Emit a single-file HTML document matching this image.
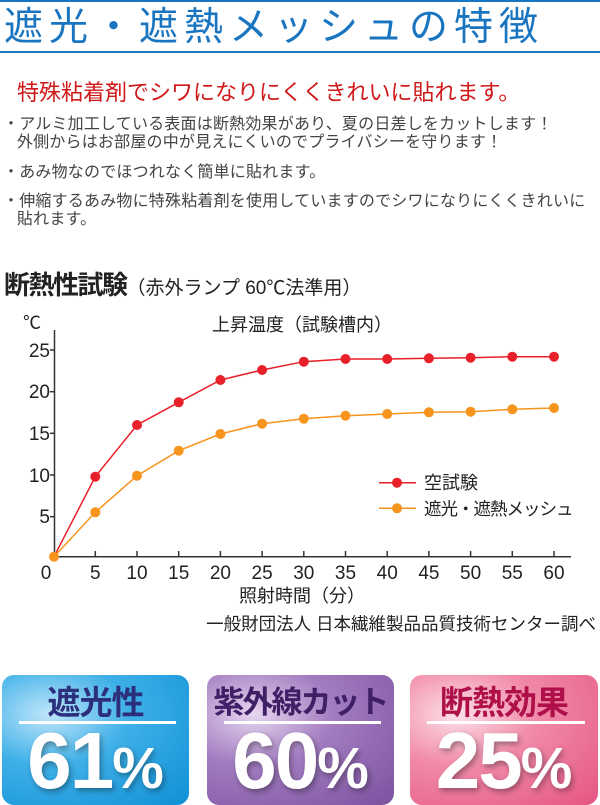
<!DOCTYPE html>
<html><head><meta charset="utf-8"><style>
body{margin:0;width:600px;height:800px;background:#fff;position:relative;overflow:hidden;font-family:"Liberation Sans","Noto Sans CJK JP",sans-serif}
.a{position:absolute;white-space:nowrap}
.box{position:absolute;top:675px;height:130px;border-radius:12px;overflow:hidden}
.box .t{position:absolute;top:8px;left:0;width:100%;text-align:center;font-size:33px;font-weight:bold;line-height:40px;letter-spacing:-1px;white-space:nowrap}
.box .l{position:absolute;top:46px;left:17px;right:13px;height:3px;background:#fff}
.box .n{position:absolute;top:47px;left:0;width:100%;text-align:center;color:#fff;font-weight:bold;font-size:80px;line-height:78px;font-family:"Liberation Sans",sans-serif;text-shadow:2px 3px 6px rgba(0,0,0,.35);letter-spacing:-2px;white-space:nowrap}
.box .n span{font-size:58px;letter-spacing:0}
</style></head><body>
<div class="a" style="left:0;top:0;width:600px;height:2px;background:#1a75c0"></div>
<div class="a" style="left:4px;top:3px;font-size:39px;color:#1a75c0;letter-spacing:6px;line-height:50px">遮光・遮熱メッシュの特徴</div>
<div class="a" style="left:0;top:51px;width:600px;height:2px;background:#1a75c0"></div>
<div class="a" style="left:17px;top:80px;font-size:22px;color:#d01818;line-height:26px">特殊粘着剤でシワになりにくくきれいに貼れます。</div>
<div class="a" style="left:3px;top:116px;font-size:16px;color:#444;line-height:18px;letter-spacing:0.2px">・アルミ加工している表面は断熱効果があり、夏の日差しをカットします！<br>&nbsp;&nbsp;&nbsp;外側からはお部屋の中が見えにくいのでプライバシーを守ります！</div>
<div class="a" style="left:3px;top:164px;font-size:16px;color:#444;line-height:18px;letter-spacing:0.2px">・あみ物なのでほつれなく簡単に貼れます。</div>
<div class="a" style="left:3px;top:193px;font-size:16px;color:#444;line-height:18px;letter-spacing:0.2px">・伸縮するあみ物に特殊粘着剤を使用していますのでシワになりにくくきれいに<br>&nbsp;&nbsp;&nbsp;貼れます。</div>
<div class="a" style="left:4px;top:270px;font-size:26px;font-weight:bold;color:#222;line-height:30px;letter-spacing:-1.5px">断熱性試験<span style="font-size:19px;font-weight:normal;letter-spacing:0">（赤外ランプ 60℃法準用）</span></div>
<svg class="a" style="left:0;top:0" width="600" height="640" font-family="Liberation Sans,Noto Sans CJK JP,sans-serif" fill="#222">
<text x="32" y="329" font-size="18" text-anchor="middle">℃</text>
<text x="302" y="331" font-size="18" text-anchor="middle">上昇温度（試験槽内）</text>
<g stroke="#333" stroke-width="1.5"><line x1="54.5" y1="330" x2="54.5" y2="557"/><line x1="54" y1="556.7" x2="571" y2="556.7"/>
<line x1="50" y1="350" x2="55" y2="350"/><line x1="50" y1="391.7" x2="55" y2="391.7"/><line x1="50" y1="433.3" x2="55" y2="433.3"/><line x1="50" y1="475" x2="55" y2="475"/><line x1="50" y1="516.7" x2="55" y2="516.7"/>
<path d="M95.3 557v-6M137 557v-6M178.7 557v-6M220.4 557v-6M262.1 557v-6M303.8 557v-6M345.5 557v-6M387.2 557v-6M428.9 557v-6M470.6 557v-6M512.3 557v-6M554 557v-6"/></g>
<g font-size="19" text-anchor="end"><text x="50" y="357">25</text><text x="50" y="398">20</text><text x="50" y="440">15</text><text x="50" y="482">10</text><text x="50" y="523">5</text></g>
<g font-size="19" text-anchor="middle"><text x="46" y="579">0</text><text x="95.3" y="579">5</text><text x="137" y="579">10</text><text x="178.7" y="579">15</text><text x="220.4" y="579">20</text><text x="262.1" y="579">25</text><text x="303.8" y="579">30</text><text x="345.5" y="579">35</text><text x="387.2" y="579">40</text><text x="428.9" y="579">45</text><text x="470.6" y="579">50</text><text x="512.3" y="579">55</text><text x="554" y="579">60</text></g>
<text x="302" y="602" font-size="18" text-anchor="middle">照射時間（分）</text>
<text x="596" y="630" font-size="17.5" text-anchor="end">一般財団法人 日本繊維製品品質技術センター調べ</text>
<polyline fill="none" stroke="#f7941d" stroke-width="1.5" points="54,556.7 95.3,512.3 137,475.7 178.7,450.7 220.4,434 262.1,423.7 303.8,418.7 345.5,415.7 387.2,414 428.9,412.3 470.6,411.7 512.3,409.3 554,408"/>
<g fill="#f7941d"><circle cx="95.3" cy="512.3" r="5"/><circle cx="137" cy="475.7" r="5"/><circle cx="178.7" cy="450.7" r="5"/><circle cx="220.4" cy="434" r="5"/><circle cx="262.1" cy="423.7" r="5"/><circle cx="303.8" cy="418.7" r="5"/><circle cx="345.5" cy="415.7" r="5"/><circle cx="387.2" cy="414" r="5"/><circle cx="428.9" cy="412.3" r="5"/><circle cx="470.6" cy="411.7" r="5"/><circle cx="512.3" cy="409.3" r="5"/><circle cx="554" cy="408" r="5"/></g>
<polyline fill="none" stroke="#e8202a" stroke-width="1.5" points="54,556.7 95.3,476.7 137,425 178.7,402.3 220.4,380 262.1,370 303.8,361.7 345.5,359 387.2,359 428.9,358.3 470.6,357.7 512.3,356.7 554,356.7"/>
<g fill="#e8202a"><circle cx="95.3" cy="476.7" r="5"/><circle cx="137" cy="425" r="5"/><circle cx="178.7" cy="402.3" r="5"/><circle cx="220.4" cy="380" r="5"/><circle cx="262.1" cy="370" r="5"/><circle cx="303.8" cy="361.7" r="5"/><circle cx="345.5" cy="359" r="5"/><circle cx="387.2" cy="359" r="5"/><circle cx="428.9" cy="358.3" r="5"/><circle cx="470.6" cy="357.7" r="5"/><circle cx="512.3" cy="356.7" r="5"/><circle cx="554" cy="356.7" r="5"/></g>
<circle cx="54" cy="556.7" r="5" fill="#f7941d"/>
<line x1="379" y1="482.7" x2="416" y2="482.7" stroke="#e8202a" stroke-width="1.5"/><circle cx="397" cy="482.7" r="5" fill="#e8202a"/>
<line x1="379" y1="508.3" x2="416" y2="508.3" stroke="#f7941d" stroke-width="1.5"/><circle cx="397" cy="508.3" r="5" fill="#f7941d"/>
<text x="424" y="489" font-size="18">空試験</text>
<text x="424" y="515" font-size="17.5" letter-spacing="-1">遮光・遮熱メッシュ</text>
</svg>
<div class="box" style="left:2px;width:187px;background:radial-gradient(ellipse at 25% 30%,#bfe6fa 0%,#3fb0e8 40%,#0f8fd6 100%)"><div class="t" style="color:#2b2f7c">遮光性</div><div class="l"></div><div class="n">61<span>%</span></div></div>
<div class="box" style="left:207px;width:187px;background:radial-gradient(ellipse at 25% 30%,#e6d6ef 0%,#a27cc0 40%,#7c519f 100%)"><div class="t" style="color:#3f1f66;font-size:31px;letter-spacing:-2px">紫外線カット</div><div class="l"></div><div class="n">60<span>%</span></div></div>
<div class="box" style="left:410px;width:188px;background:radial-gradient(ellipse at 25% 30%,#fde0e8 0%,#f18aa8 40%,#e55583 100%)"><div class="t" style="color:#b0104a">断熱効果</div><div class="l"></div><div class="n">25<span>%</span></div></div>
</body></html>
